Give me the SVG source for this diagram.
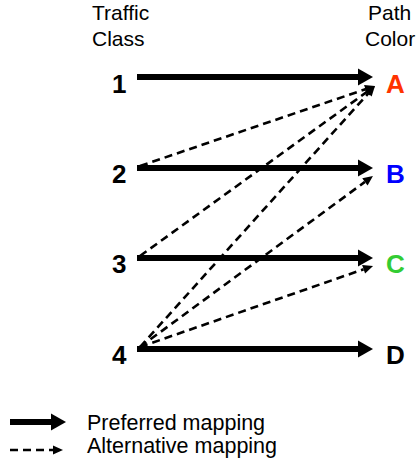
<svg xmlns="http://www.w3.org/2000/svg" width="420" height="465" viewBox="0 0 420 465">
<style>
text{font-family:"Liberation Sans",Arial,sans-serif;fill:#000}
.hdr{font-size:21px}
.lbl{font-size:26px;font-weight:bold}
.leg{font-size:21.5px}
.pref{stroke:#000;stroke-width:6;fill:none}
.alt{stroke:#000;stroke-width:2.6;stroke-dasharray:8 5;fill:none}
</style>
<defs>
<marker id="hp" markerUnits="userSpaceOnUse" markerWidth="16" markerHeight="18" refX="0" refY="8.5" orient="auto" overflow="visible">
<path d="M0,0 L15,8.5 L0,17 z" fill="#000"/>
</marker>
<marker id="ha" markerUnits="userSpaceOnUse" markerWidth="11" markerHeight="10" refX="0" refY="4.5" orient="auto" overflow="visible">
<path d="M0,0 L10,4.5 L0,9 z" fill="#000"/>
</marker>
</defs>
<g id="headers">
<text class="hdr" x="92" y="20">Traffic</text>
<text class="hdr" x="92" y="46">Class</text>
<text class="hdr" x="368" y="20">Path</text>
<text class="hdr" x="365" y="46">Color</text>
</g>
<g id="class1"><text class="lbl" x="112" y="93">1</text></g>
<g id="class2"><text class="lbl" x="112" y="183">2</text></g>
<g id="class3"><text class="lbl" x="112" y="273">3</text></g>
<g id="class4"><text class="lbl" x="112" y="364">4</text></g>
<g id="colorA"><text class="lbl" x="386" y="93" style="fill:#FF3300">A</text></g>
<g id="colorB"><text class="lbl" x="386" y="183" style="fill:#0000FF">B</text></g>
<g id="colorC"><text class="lbl" x="386" y="273" style="fill:#33CC33">C</text></g>
<g id="colorD"><text class="lbl" x="386" y="364">D</text></g>
<g id="connectors">
<line class="pref" x1="137" y1="77" x2="358" y2="77" marker-end="url(#hp)"/>
<line class="pref" x1="137" y1="168" x2="358" y2="168" marker-end="url(#hp)"/>
<line class="pref" x1="137" y1="258" x2="358" y2="258" marker-end="url(#hp)"/>
<line class="pref" x1="137" y1="349" x2="358" y2="349" marker-end="url(#hp)"/>
<line class="alt" x1="140" y1="166" x2="365.5" y2="89.2" marker-end="url(#ha)"/>
<line class="alt" x1="140" y1="256" x2="366.9" y2="91.9" marker-end="url(#ha)"/>
<line class="alt" x1="140" y1="347" x2="368.3" y2="93.4" marker-end="url(#ha)"/>
<line class="alt" x1="140" y1="347" x2="364.9" y2="181.9" marker-end="url(#ha)"/>
<line class="alt" x1="140" y1="347" x2="363.6" y2="269.3" marker-end="url(#ha)"/>
</g>
<g id="legend">
<line class="pref" x1="10" y1="422" x2="51" y2="422" marker-end="url(#hp)"/>
<line class="alt" x1="10" y1="450" x2="53" y2="450" marker-end="url(#ha)"/>
<text class="leg" x="87" y="430">Preferred mapping</text>
<text class="leg" x="87" y="453">Alternative mapping</text>
</g>
</svg>
